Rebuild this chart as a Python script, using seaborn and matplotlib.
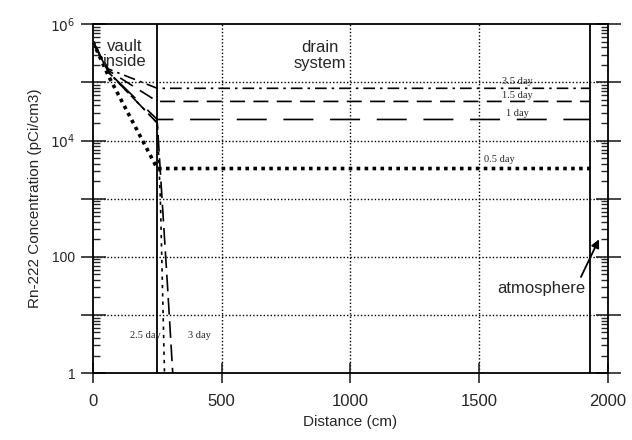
import numpy as np
import pandas as pd
import matplotlib
matplotlib.use("Agg")
import matplotlib.pyplot as plt
import matplotlib.ticker as mticker
import seaborn as sns

sns.set_style("white")
plt.rcParams['font.family'] = ['Liberation Sans', 'DejaVu Sans']

# ---- data ----
x_flat = [0, 60, 250, 1930]
y_05 = [5e5, 1.3e5, 3300, 3300]
y_1 = [5e5, 1.5e5, 2.3e4, 2.3e4]
y_15 = [5e5, 1.6e5, 4.7e4, 4.7e4]
y_35 = [5e5, 1.7e5, 7.9e4, 7.9e4]
x_25 = [0, 60, 250, 262, 278]
y_25 = [5e5, 1.5e5, 2.0e4, 1e3, 1]
x_3 = [0, 60, 250, 290, 310]
y_3 = [5e5, 1.5e5, 2.0e4, 30, 1]

x_ticks = [0, 500, 1000, 1500, 2000]
y_label_ticks = {1: "1", 100: "100", 1e4: r"$10^4$", 1e6: r"$10^6$"}
vault_edge = 250
atm_edge = 1930

fig = plt.figure(figsize=(6.32, 4.40), dpi=100)
ax = fig.add_axes([0.147, 0.152, 0.815, 0.793])

def draw(xs, ys, **kw):
    df = pd.DataFrame({"x": xs, "y": ys})
    sns.lineplot(data=df, x="x", y="y", ax=ax, color="black", sort=False,
                 estimator=None, **kw)

draw(x_flat, y_05, lw=2.6, linestyle=(0, (1, 1.2)))
draw(x_flat, y_1, lw=1.2, linestyle=(3, (18, 10)))
draw(x_flat, y_15, lw=1.2, linestyle=(0, (9, 5)))
draw(x_flat, y_35, lw=1.2, linestyle=(0, (7, 3, 1.5, 3)))
draw(x_25, y_25, lw=1.2, linestyle=(0, (2, 3)))
draw(x_3, y_3, lw=1.2, linestyle=(0, (10, 4)))

ax.set_yscale("log")
ax.set_xlim(0, 2000)
ax.set_ylim(1, 1e6)

# grid
for yv in [10, 100, 1e3, 1e4, 1e5]:
    ax.axhline(yv, color="black", lw=1.0, linestyle=(0, (1, 1.5)), zorder=0)
for xv in [500, 1000, 1500]:
    ax.axvline(xv, color="black", lw=1.0, linestyle=(0, (1, 1.5)), zorder=0)

ax.axvline(vault_edge, color="black", lw=1.3)
ax.axvline(atm_edge, color="black", lw=1.3)

# ticks
ax.set_xticks(x_ticks)
ax.set_xticklabels([str(v) for v in x_ticks], fontsize=12)
ax.yaxis.set_major_locator(mticker.LogLocator(base=10, numticks=10))
ax.yaxis.set_major_formatter(mticker.FuncFormatter(
    lambda v, p: y_label_ticks.get(round(v, 6), "")))
ax.yaxis.set_minor_locator(mticker.LogLocator(base=10, subs=np.arange(2, 10), numticks=20))
ax.yaxis.set_minor_formatter(mticker.NullFormatter())
ax.tick_params(axis="y", which="major", direction="inout", length=18, width=1.2,
               left=True, right=True, labelsize=10)
ax.tick_params(axis="y", which="minor", direction="in", length=5, width=1,
               left=True, right=True)
ax.tick_params(axis="x", which="major", direction="inout", length=14, width=1.2,
               bottom=True, labelsize=12, pad=8)

for s in ax.spines.values():
    s.set_color("black")
    s.set_linewidth(1.3)

ax.set_xlabel("Distance (cm)", fontsize=11)
ax.set_ylabel("Rn-222 Concentration (pCi/cm3)", fontsize=11, labelpad=6)

# annotations
ax.text(125, 5.5e5, "vault\ninside", fontsize=12, ha="center", va="top", linespacing=1.0)
ax.text(880, 1.55e5, "drain\nsystem", fontsize=12, ha="center", va="bottom", linespacing=1.1)
serif = ["Liberation Serif", "DejaVu Serif"]
ax.text(1650, 8.6e4, "3.5 day", fontsize=7.5, family=serif, ha="center", va="bottom")
ax.text(1650, 4.9e4, "1.5 day", fontsize=7.5, family=serif, ha="center", va="bottom")
ax.text(1650, 2.4e4, "1 day", fontsize=7.5, family=serif, ha="center", va="bottom")
ax.text(1580, 3.9e3, "0.5 day", fontsize=7.5, family=serif, ha="center", va="bottom")
ax.text(262, 4.5, "2.5 day", fontsize=7.5, family=serif, ha="right", va="center")
ax.text(370, 4.5, "3 day", fontsize=7.5, family=serif, ha="left", va="center")
ax.text(1740, 28, "atmosphere", fontsize=12, ha="center", va="center")
ax.annotate("", xy=(1965, 200), xytext=(1895, 45),
            arrowprops=dict(arrowstyle="-|>", color="black", lw=1.3,
                            shrinkA=0, shrinkB=0, mutation_scale=12))

fig.savefig("out.png", dpi=100)
